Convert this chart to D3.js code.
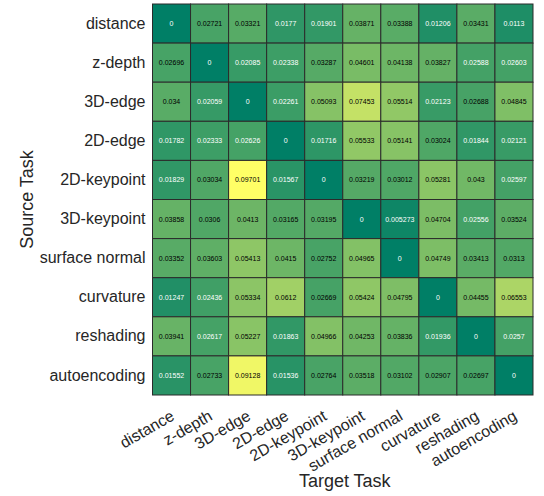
<!DOCTYPE html>
<html>
<head>
<meta charset="utf-8">
<script src="https://cdn.jsdelivr.net/npm/d3@7"></script>
<style>
  body { margin: 0; background: #fff; }
  text { font-family: "Liberation Sans", Arial, sans-serif; }
</style>
</head>
<body>
<svg></svg>
<script>
var tasks = ["distance", "z-depth", "3D-edge", "2D-edge", "2D-keypoint", "3D-keypoint",
             "surface normal", "curvature", "reshading", "autoencoding"]

// rows = source task, columns = target task
var affinity = [
  [0, 0.02721, 0.03321, 0.0177, 0.01901, 0.03871, 0.03388, 0.01206, 0.03431, 0.0113],
  [0.02696, 0, 0.02085, 0.02338, 0.03287, 0.04601, 0.04138, 0.03827, 0.02588, 0.02603],
  [0.034, 0.02059, 0, 0.02261, 0.05093, 0.07453, 0.05514, 0.02123, 0.02688, 0.04845],
  [0.01782, 0.02333, 0.02626, 0, 0.01716, 0.05533, 0.05141, 0.03024, 0.01844, 0.02121],
  [0.01829, 0.03034, 0.09701, 0.01567, 0, 0.03219, 0.03012, 0.05281, 0.043, 0.02597],
  [0.03858, 0.0306, 0.0413, 0.03165, 0.03195, 0, 0.005273, 0.04704, 0.02556, 0.03524],
  [0.03352, 0.03603, 0.05413, 0.0415, 0.02752, 0.04965, 0, 0.04749, 0.03413, 0.0313],
  [0.01247, 0.02436, 0.05334, 0.0612, 0.02669, 0.05424, 0.04795, 0, 0.04455, 0.06553],
  [0.03941, 0.02617, 0.05227, 0.01863, 0.04966, 0.04253, 0.03836, 0.01936, 0, 0.0257],
  [0.01552, 0.02733, 0.09128, 0.01536, 0.02764, 0.03518, 0.03102, 0.02907, 0.02697, 0]
]

var screen = {width: 544, height: 496}
var margins = {top: 4, right: 11, bottom: 101, left: 152.5}
var width = screen.width - margins.left - margins.right
var height = screen.height - margins.top - margins.bottom

var cells = []
affinity.forEach(function(row, i){
    row.forEach(function(v, j){
        cells.push({source: tasks[i], target: tasks[j], value: v})
    })
})

var svg = d3.select("svg")
    .attr("width", screen.width)
    .attr("height", screen.height)

var g = svg.append("g")
    .attr("transform", "translate(" + margins.left + "," + margins.top + ")")

var xScale = d3.scaleBand().domain(tasks).range([0, width])
var yScale = d3.scaleBand().domain(tasks).range([0, height])

// matlab "summer"
var cScale = d3.scaleLinear()
    .domain([0, d3.max(cells, function(d){ return d.value })])
    .range(["#007f66", "#ffff66"])
    .interpolate(d3.interpolateRgb)

g.selectAll("rect.cell")
    .data(cells)
    .enter()
    .append("rect")
    .attr("class", "cell")
    .attr("x", function(d){ return xScale(d.target) })
    .attr("y", function(d){ return yScale(d.source) })
    .attr("width", xScale.bandwidth())
    .attr("height", yScale.bandwidth())
    .attr("fill", function(d){ return cScale(d.value) })
    .attr("stroke", "#2b2b2b")
    .attr("stroke-width", 1)

g.selectAll("text.val")
    .data(cells)
    .enter()
    .append("text")
    .attr("class", "val")
    .attr("x", function(d){ return xScale(d.target) + xScale.bandwidth() / 2 })
    .attr("y", function(d){ return yScale(d.source) + yScale.bandwidth() / 2 })
    .attr("dy", "0.35em")
    .attr("text-anchor", "middle")
    .attr("font-size", 7)
    .attr("fill", function(d){ return d.value < 0.0265 ? "#ffffff" : "#000000" })
    .text(function(d){ return d.value })

var yAxis = d3.axisLeft(yScale).tickSize(0).tickPadding(7)
var xAxis = d3.axisBottom(xScale).tickSize(0)

var ya = g.append("g").attr("id", "yAxis").call(yAxis)
ya.select(".domain").remove()
ya.selectAll("text")
    .attr("font-size", 16)
    .attr("fill", "#262626")
    .style("font-family", "'Liberation Sans', Arial, sans-serif")

var xa = g.append("g").attr("id", "xAxis")
    .attr("transform", "translate(0," + height + ")")
    .call(xAxis)
xa.select(".domain").remove()
xa.selectAll("text")
    .attr("font-size", 16)
    .attr("fill", "#262626")
    .style("font-family", "'Liberation Sans', Arial, sans-serif")
    .attr("text-anchor", "end")
    .attr("y", 0)
    .attr("dy", 0)
    .attr("transform", "translate(4,24) rotate(-30)")

g.append("text")
    .attr("transform", "translate(" + (-119.5) + "," + (height / 2) + ") rotate(-90)")
    .attr("text-anchor", "middle")
    .attr("font-size", 18)
    .attr("fill", "#262626")
    .text("Source Task")

g.append("text")
    .attr("x", width / 2 + 2)
    .attr("y", height + 92)
    .attr("text-anchor", "middle")
    .attr("font-size", 18)
    .attr("fill", "#262626")
    .text("Target Task")
</script>
</body>
</html>
